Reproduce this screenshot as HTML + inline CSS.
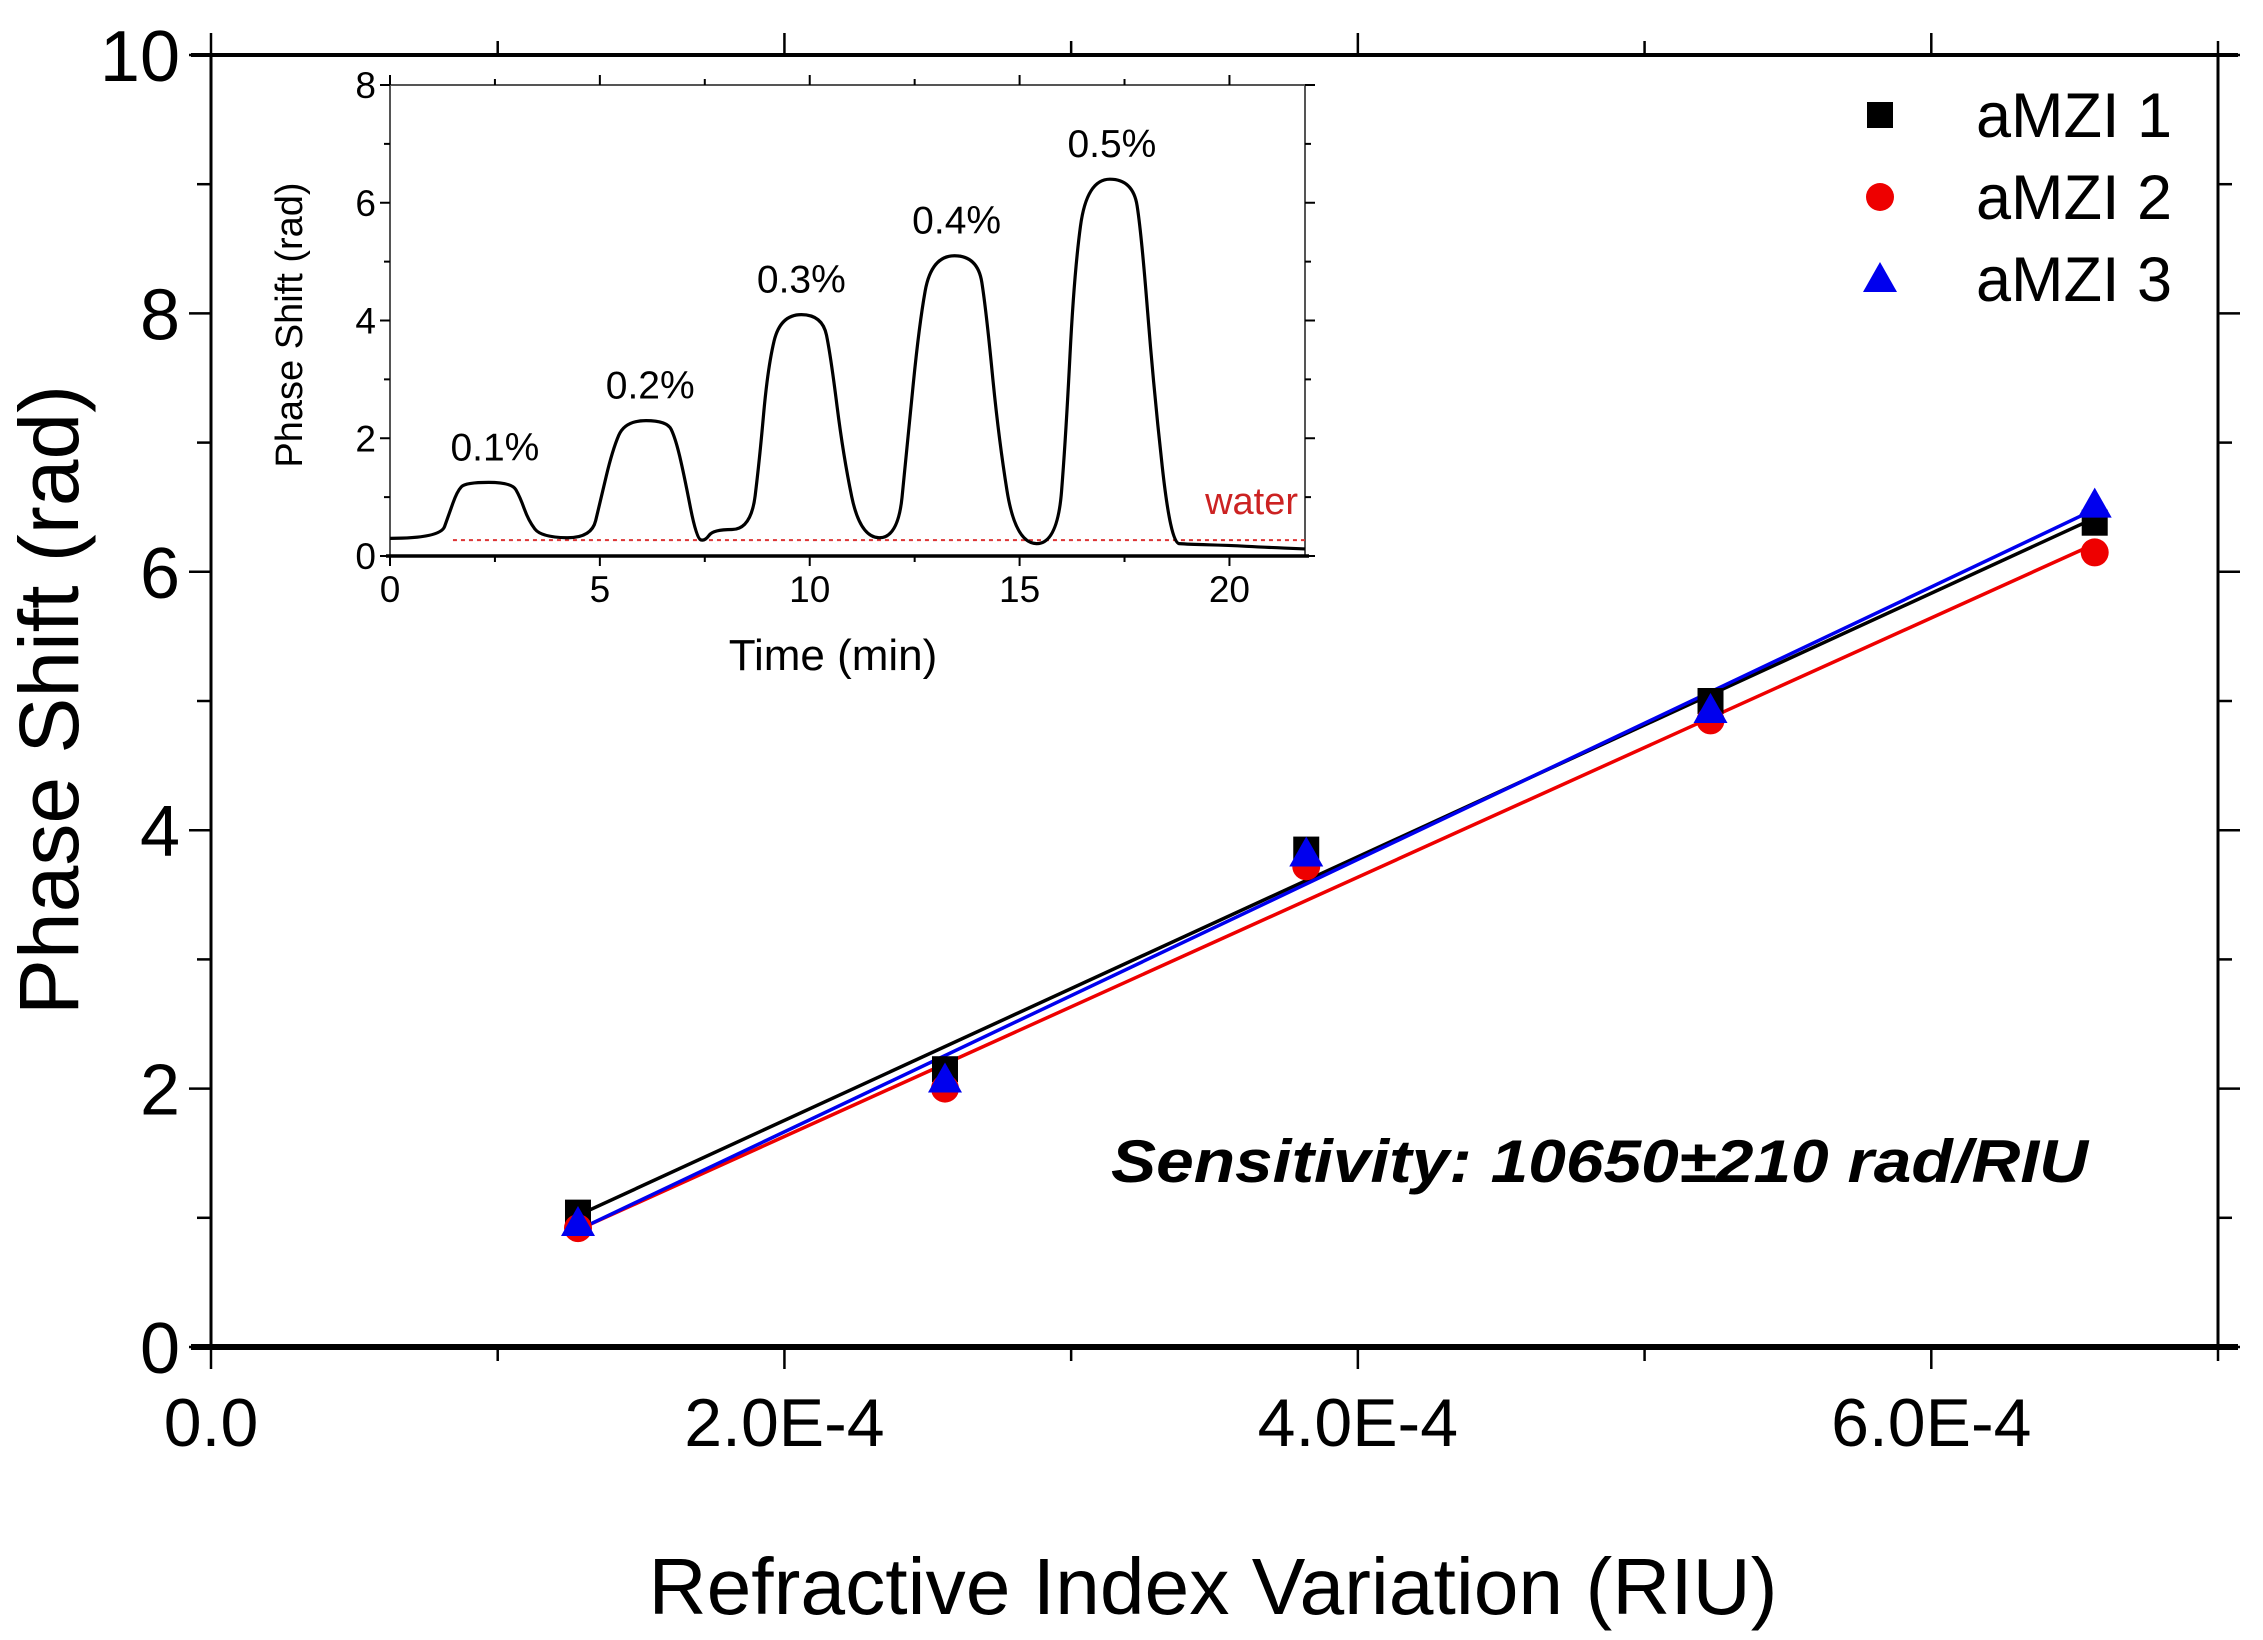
<!DOCTYPE html>
<html><head><meta charset="utf-8"><style>
html,body{margin:0;padding:0;background:#fff;}
svg{display:block;}
text{font-family:"Liberation Sans",Arial,sans-serif;}
</style></head><body>
<svg id="chart" width="2263" height="1640" viewBox="0 0 2263 1640" xmlns="http://www.w3.org/2000/svg"></svg>
<script>
// Main chart data
const riuValues = [1.28e-4, 2.56e-4, 3.82e-4, 5.23e-4, 6.57e-4];
const amzi1 = [1.04, 2.15, 3.85, 5.00, 6.38];
const amzi2 = [0.92, 2.00, 3.72, 4.85, 6.15];
const amzi3 = [0.96, 2.07, 3.82, 4.93, 6.52];
const xTickValues = [0, 2e-4, 4e-4, 6e-4];
const xTickLabels = ["0.0", "2.0E-4", "4.0E-4", "6.0E-4"];
const yTickValues = [0, 2, 4, 6, 8, 10];
const seriesNames = ["aMZI 1", "aMZI 2", "aMZI 3"];
// Inset data (time in min, phase shift in rad)
const insetTime = [0,1.2,1.4,1.6,1.8,2.9,3.1,3.3,3.6,4.8,5.0,5.3,5.6,6.6,6.8,7.0,7.3,7.5,7.7,8.6,8.8,9.0,9.3,10.3,10.5,10.8,11.2,12.1,12.3,12.6,12.9,14.0,14.2,14.5,14.9,15.9,16.1,16.3,16.6,17.7,17.9,18.2,18.6,19.0,20.0,20.8,21.8];
const insetPhase = [0.3,0.3,0.7,1.1,1.25,1.25,1.0,0.6,0.32,0.3,0.9,1.8,2.3,2.3,2.0,1.4,0.3,0.25,0.45,0.45,1.6,3.2,4.1,4.1,3.4,1.7,0.32,0.3,1.7,3.9,5.1,5.1,4.2,2.0,0.22,0.2,2.0,4.8,6.4,6.4,5.5,2.8,0.22,0.2,0.18,0.15,0.12];
const insetPeakLabels = ["0.1%","0.2%","0.3%","0.4%","0.5%"];
const insetPeakX = [2.5, 6.2, 9.8, 13.5, 17.2];
const insetPeakY = [1.25, 2.3, 4.1, 5.1, 6.4];
const insetXTicks = [0,5,10,15,20];
const insetYTicks = [0,2,4,6,8];
const waterLevel = 0.27;

const NS="http://www.w3.org/2000/svg";
const svg=document.getElementById('chart');
function el(tag,attrs,parent){const e=document.createElementNS(NS,tag);for(const k in attrs)e.setAttribute(k,attrs[k]);(parent||svg).appendChild(e);return e;}

// main axes
const X0=211,X1=2218,Y0=1347,Y1=55,XMAX=7e-4,YMAX=10;
const sx=v=>X0+v/XMAX*(X1-X0);
const sy=v=>Y0-v/YMAX*(Y0-Y1);

const frame=el('rect',{x:X0,y:Y1,width:X1-X0,height:Y0-Y1,fill:'none',stroke:'#000','stroke-width':3});


const xl=el('line',{x1:X0-20,y1:Y0,x2:X1+20,y2:Y0,stroke:'#000','stroke-width':6});


const tl=el('line',{x1:X0-20,y1:Y1,x2:X1+20,y2:Y1,stroke:'#000','stroke-width':4});



for(let i=0;i<=7;i++){
  const v=i*1e-4,x=sx(v),maj=i%2===0,L=maj?22:14;
  const t1=el('line',{x1:x,y1:Y0,x2:x,y2:Y0+L,stroke:'#000','stroke-width':2.5});
  
  
  const t2=el('line',{x1:x,y1:Y1,x2:x,y2:Y1-L,stroke:'#000','stroke-width':2.5});
  
  
}
xTickValues.forEach((v,i)=>{
  const t=el('text',{x:sx(v),y:1446,'font-size':68,'text-anchor':'middle',fill:'#000'});
  t.textContent=xTickLabels[i];
  
  
});
for(let i=0;i<=10;i++){
  const y=sy(i),maj=i%2===0,L=maj?22:14;
  const t1=el('line',{x1:X0,y1:y,x2:X0-L,y2:y,stroke:'#000','stroke-width':2.5});
  
  
  const t2=el('line',{x1:X1,y1:y,x2:X1+L,y2:y,stroke:'#000','stroke-width':2.5});
  
  
}
yTickValues.forEach(v=>{
  const t=el('text',{x:180,y:sy(v)+26,'font-size':72,'text-anchor':'end',fill:'#000'});
  t.textContent=String(v);
  
  
});
const yt=el('text',{x:0,y:0,'font-size':84,'text-anchor':'middle',fill:'#000',transform:'translate(78,700) rotate(-90)'});
yt.textContent='Phase Shift (rad)';


const xt=el('text',{x:1213,y:1614,'font-size':80,'text-anchor':'middle',fill:'#000',textLength:1129,lengthAdjust:'spacingAndGlyphs'});
xt.textContent='Refractive Index Variation (RIU)';


const st=el('text',{x:1111,y:1182,'font-size':60,'font-weight':'bold','font-style':'italic',fill:'#000',textLength:977,lengthAdjust:'spacingAndGlyphs'});
st.textContent='Sensitivity: 10650\u00b1210 rad/RIU';



// fits + markers
const colors=['#000','#e00','#00e'];
const allSeries=[amzi1,amzi2,amzi3];
function fit(xs,ys){const n=xs.length;let mx=0,my=0;xs.forEach((x,i)=>{mx+=x;my+=ys[i];});mx/=n;my/=n;let a=0,b=0;xs.forEach((x,i)=>{a+=(x-mx)*(ys[i]-my);b+=(x-mx)*(x-mx);});const s=a/b;return [s,my-s*mx];}
function marker(k,x,y,parent){
  let m;
  if(k===0) m=el('rect',{x:x-13,y:y-13,width:26,height:26,fill:'#000'},parent);
  else if(k===1) m=el('circle',{cx:x,cy:y,r:14,fill:'#e00'},parent);
  else m=el('polygon',{points:`${x},${y-17} ${x+17},${y+13} ${x-17},${y+13}`,fill:'#00e'},parent);
  return m;
}
allSeries.forEach((ys,k)=>{
  const [s,b]=fit(riuValues,ys);
  const xa=riuValues[0],xb=riuValues[riuValues.length-1];
  const ln=el('line',{x1:sx(xa),y1:sy(s*xa+b),x2:sx(xb),y2:sy(s*xb+b),stroke:colors[k],'stroke-width':3.5});
  
  
});
allSeries.forEach((ys,k)=>{
  ys.forEach((v,i)=>{
    const m=marker(k,sx(riuValues[i]),sy(v));
    
    
  });
});
// legend
seriesNames.forEach((n,k)=>{
  const y=115+k*82;
  const m=marker(k,1880,y);
  
  
  const t=el('text',{x:1976,y:y+22,'font-size':63,fill:'#000'});
  t.textContent=n;
  
  
});

// inset
const IX0=390,IX1=1305,IY0=556,IY1=85,IXMAX=21.8,IYMAX=8;
const ix=v=>IX0+v/IXMAX*(IX1-IX0);
const iy=v=>IY0-v/IYMAX*(IY0-IY1);
const ig=el('g',{});


const ir=el('rect',{x:IX0,y:IY1,width:IX1-IX0,height:IY0-IY1,fill:'#fff',stroke:'#555','stroke-width':2},ig);


const ib=el('line',{x1:IX0-4,y1:IY0,x2:IX1+4,y2:IY0,stroke:'#000','stroke-width':3.5},ig);


for(let i=0;i<=8;i++){
  const v=i*2.5,x=ix(v),L=i%2===0?10:6;
  const a=el('line',{x1:x,y1:IY0,x2:x,y2:IY0+L,stroke:'#000','stroke-width':2},ig);
  
  
  const b=el('line',{x1:x,y1:IY1,x2:x,y2:IY1-L,stroke:'#000','stroke-width':2},ig);
  
  
}
for(let i=0;i<=8;i++){
  const y=iy(i),L=i%2===0?10:6;
  const a=el('line',{x1:IX0,y1:y,x2:IX0-L,y2:y,stroke:'#000','stroke-width':2},ig);
  
  
  const b=el('line',{x1:IX1,y1:y,x2:IX1+L,y2:y,stroke:'#000','stroke-width':2},ig);
  
  
}
insetXTicks.forEach(v=>{
  const t=el('text',{x:ix(v),y:IY0+46,'font-size':37,'text-anchor':'middle',fill:'#000'},ig);
  t.textContent=String(v);
  
  
});
insetYTicks.forEach(v=>{
  const t=el('text',{x:IX0-14,y:iy(v)+13,'font-size':37,'text-anchor':'end',fill:'#000'},ig);
  t.textContent=String(v);
  
  
});
const iyt=el('text',{x:0,y:0,'font-size':38,'text-anchor':'middle',fill:'#000',transform:'translate(302,325) rotate(-90)'},ig);
iyt.textContent='Phase Shift (rad)';


const ixt=el('text',{x:833,y:670,'font-size':44,'text-anchor':'middle',fill:'#000'},ig);
ixt.textContent='Time (min)';


const wl=el('line',{x1:ix(1.5),y1:iy(waterLevel),x2:IX1,y2:iy(waterLevel),stroke:'#d33','stroke-width':2,'stroke-dasharray':'4,4'},ig);


const wt=el('text',{x:1298,y:iy(waterLevel)-26,'font-size':38,'text-anchor':'end',fill:'#c22'},ig);
wt.textContent='water';


// smoothed trace: quadratic curves through midpoints
const P=insetTime.map((t,i)=>[ix(t),iy(insetPhase[i])]);
let d='M'+P[0][0]+','+P[0][1];
for(let i=1;i<P.length-1;i++){
  const mx=(P[i][0]+P[i+1][0])/2,my=(P[i][1]+P[i+1][1])/2;
  d+=' Q'+P[i][0]+','+P[i][1]+' '+mx+','+my;
}
d+=' L'+P[P.length-1][0]+','+P[P.length-1][1];
const pl=el('path',{d:d,fill:'none',stroke:'#000','stroke-width':3.2,'stroke-linejoin':'round'},ig);


insetPeakLabels.forEach((s,i)=>{
  const t=el('text',{x:ix(insetPeakX[i]),y:iy(insetPeakY[i])-22,'font-size':39,'text-anchor':'middle',fill:'#000'},ig);
  t.textContent=s;
  
  
});
</script>
</body></html>
